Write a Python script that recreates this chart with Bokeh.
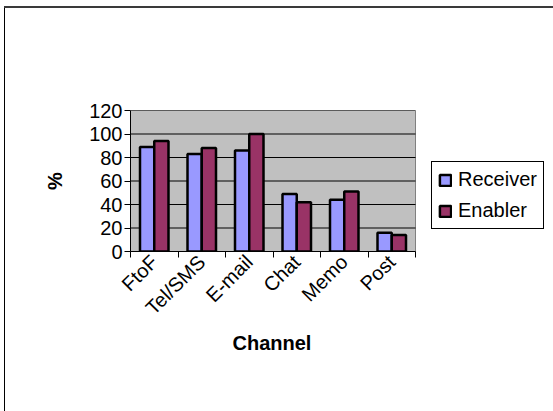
from math import pi

from bokeh.plotting import figure
from bokeh.models import (ColumnDataSource, Range1d, FixedTicker, Legend,
                          LegendItem, BoxAnnotation, Title)
from bokeh.transform import dodge
from bokeh.embed import file_html
from bokeh.resources import INLINE

# Share of respondents using each communication channel
categories = ["FtoF", "Tel/SMS", "E-mail", "Chat", "Memo", "Post"]
receiver = [89, 83, 86, 49, 44, 16]
enabler = [94, 88, 100, 42, 51, 14]
y_ticks = [0, 20, 40, 60, 80, 100, 120]

FONT = "Liberation Sans"
SIZE = "20px"
n = len(categories)
positions = list(range(n))
src = ColumnDataSource(dict(x=positions, receiver=receiver, enabler=enabler))
grid_src = ColumnDataSource(dict(y=y_ticks, x0=[0] * len(y_ticks),
                                 x1=[n] * len(y_ticks)))

# The frame runs to the right edge so the legend can sit beside the plot area;
# the grey plot area itself covers categories 0..n only.
LEFT, TOP, BOTTOM = 130, 110, 160
PLOT_AREA_PX = 285
frame_px = 553 - LEFT
x_end = n * frame_px / PLOT_AREA_PX

p = figure(width=553, height=411, output_backend="svg", toolbar_location=None,
           x_range=Range1d(0, x_end), y_range=Range1d(0, y_ticks[-1]),
           min_border_left=LEFT, min_border_right=0,
           min_border_top=TOP, min_border_bottom=BOTTOM)

p.background_fill_alpha = 0
p.border_fill_alpha = 0
p.outline_line_alpha = 0

# outer chart border: top and left edges drawn behind the transparent canvas
p.styles = {
    "background-color": "white",
    "background-image": ("linear-gradient(#3a3a3a, #3a3a3a), "
                         "linear-gradient(#000000, #000000)"),
    "background-position": "4px 6px, 4px 7px",
    "background-size": "549px 2px, 1px 404px",
    "background-repeat": "no-repeat, no-repeat",
}

# grey plot area with its thin grey border
p.add_layout(BoxAnnotation(left=0, right=n, bottom=0, top=y_ticks[-1],
                           fill_color="#C0C0C0", fill_alpha=1,
                           line_color="#808080", line_width=1, line_alpha=1,
                           level="underlay"))

# horizontal gridlines across the plot area only
p.grid.visible = False
p.segment(x0="x0", x1="x1", y0="y", y1="y", source=grid_src,
          line_color="black", line_width=1)

r1 = p.vbar(x=dodge("x", 0.35), top="receiver", width=0.3, source=src,
            fill_color="#9999FF", line_color="black", line_width=2.5)
r2 = p.vbar(x=dodge("x", 0.65), top="enabler", width=0.3, source=src,
            fill_color="#993366", line_color="black", line_width=2.5)

# y axis
p.yaxis.ticker = FixedTicker(ticks=y_ticks)
p.yaxis.major_tick_out = 6
p.yaxis.major_tick_in = 0
p.yaxis.minor_tick_out = 0
p.yaxis.minor_tick_in = 0
p.yaxis.axis_line_color = "black"
p.yaxis.major_tick_line_color = "black"
p.yaxis.major_label_standoff = 2
p.yaxis.major_label_text_font = FONT
p.yaxis.major_label_text_font_size = SIZE
p.yaxis.major_label_text_color = "black"
p.yaxis.axis_label = "%"
p.yaxis.axis_label_text_font = FONT
p.yaxis.axis_label_text_font_size = SIZE
p.yaxis.axis_label_text_font_style = "bold"
p.yaxis.axis_label_text_color = "black"
p.yaxis.axis_label_standoff = 20

# x axis: labels at category centres, tick marks between categories
p.xaxis.bounds = (0, n)
p.xaxis.ticker = FixedTicker(ticks=[i + 0.5 for i in positions],
                             minor_ticks=list(range(n + 1)))
p.xaxis.major_label_overrides = {i + 0.5: c for i, c in zip(positions, categories)}
p.xaxis.major_tick_out = 0
p.xaxis.major_tick_in = 0
p.xaxis.minor_tick_out = 6
p.xaxis.minor_tick_in = 0
p.xaxis.minor_tick_line_color = "black"
p.xaxis.axis_line_color = "black"
p.xaxis.major_label_orientation = pi / 4
p.xaxis.major_label_standoff = 1
p.xaxis.major_label_text_font = FONT
p.xaxis.major_label_text_font_size = SIZE
p.xaxis.major_label_text_color = "black"

# x axis title, centred under the plot area rather than the whole frame
p.add_layout(Title(text="Channel", align="left", offset=102, standoff=0,
                   text_font=FONT, text_font_size=SIZE,
                   text_font_style="bold", text_color="black"), "below")

legend = Legend(items=[LegendItem(label="Receiver", renderers=[r1]),
                       LegendItem(label="Enabler", renderers=[r2])],
                location=(301, 22))
legend.border_line_color = "black"
legend.border_line_alpha = 1
legend.border_line_width = 1
legend.background_fill_color = "white"
legend.background_fill_alpha = 1
legend.label_text_font = FONT
legend.label_text_font_size = SIZE
legend.label_text_color = "black"
legend.glyph_width = 14
legend.glyph_height = 14
legend.label_height = 20
legend.label_standoff = 6
legend.spacing = 8
legend.padding = 6
legend.margin = 0
p.add_layout(legend)

open("out.html", "w").write(file_html(p, INLINE))
